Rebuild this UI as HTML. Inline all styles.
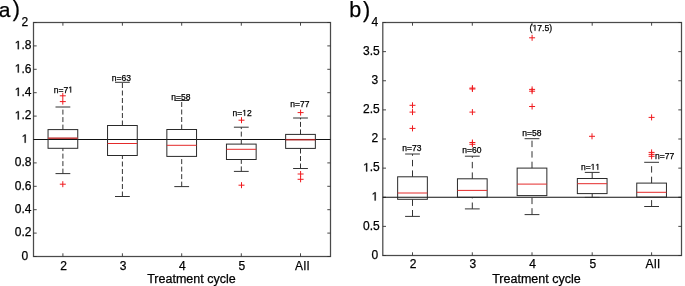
<!DOCTYPE html><html><head><meta charset="utf-8"><style>html,body{margin:0;padding:0;background:#fff;font-family:'Liberation Sans',sans-serif;}svg{display:block;will-change:transform;}</style></head><body>
<svg width="685" height="286" viewBox="0 0 685 286" font-family='"Liberation Sans", sans-serif'>
<rect width="685" height="286" fill="#fff"/>
<rect x="33.5" y="22.5" width="297.0" height="234.0" fill="none" stroke="#4a4a4a" stroke-width="1.25"/>
<line x1="33.5" y1="256.5" x2="36.7" y2="256.5" stroke="#333" stroke-width="0.9"/>
<line x1="327.3" y1="256.5" x2="330.5" y2="256.5" stroke="#333" stroke-width="0.9"/>
<line x1="33.5" y1="233.1" x2="36.7" y2="233.1" stroke="#333" stroke-width="0.9"/>
<line x1="327.3" y1="233.1" x2="330.5" y2="233.1" stroke="#333" stroke-width="0.9"/>
<line x1="33.5" y1="209.7" x2="36.7" y2="209.7" stroke="#333" stroke-width="0.9"/>
<line x1="327.3" y1="209.7" x2="330.5" y2="209.7" stroke="#333" stroke-width="0.9"/>
<line x1="33.5" y1="186.29999999999998" x2="36.7" y2="186.29999999999998" stroke="#333" stroke-width="0.9"/>
<line x1="327.3" y1="186.29999999999998" x2="330.5" y2="186.29999999999998" stroke="#333" stroke-width="0.9"/>
<line x1="33.5" y1="162.89999999999998" x2="36.7" y2="162.89999999999998" stroke="#333" stroke-width="0.9"/>
<line x1="327.3" y1="162.89999999999998" x2="330.5" y2="162.89999999999998" stroke="#333" stroke-width="0.9"/>
<line x1="33.5" y1="139.5" x2="36.7" y2="139.5" stroke="#333" stroke-width="0.9"/>
<line x1="327.3" y1="139.5" x2="330.5" y2="139.5" stroke="#333" stroke-width="0.9"/>
<line x1="33.5" y1="116.09999999999997" x2="36.7" y2="116.09999999999997" stroke="#333" stroke-width="0.9"/>
<line x1="327.3" y1="116.09999999999997" x2="330.5" y2="116.09999999999997" stroke="#333" stroke-width="0.9"/>
<line x1="33.5" y1="92.69999999999999" x2="36.7" y2="92.69999999999999" stroke="#333" stroke-width="0.9"/>
<line x1="327.3" y1="92.69999999999999" x2="330.5" y2="92.69999999999999" stroke="#333" stroke-width="0.9"/>
<line x1="33.5" y1="69.29999999999998" x2="36.7" y2="69.29999999999998" stroke="#333" stroke-width="0.9"/>
<line x1="327.3" y1="69.29999999999998" x2="330.5" y2="69.29999999999998" stroke="#333" stroke-width="0.9"/>
<line x1="33.5" y1="45.900000000000006" x2="36.7" y2="45.900000000000006" stroke="#333" stroke-width="0.9"/>
<line x1="327.3" y1="45.900000000000006" x2="330.5" y2="45.900000000000006" stroke="#333" stroke-width="0.9"/>
<line x1="33.5" y1="22.5" x2="36.7" y2="22.5" stroke="#333" stroke-width="0.9"/>
<line x1="327.3" y1="22.5" x2="330.5" y2="22.5" stroke="#333" stroke-width="0.9"/>
<line x1="62.9" y1="253.3" x2="62.9" y2="256.5" stroke="#333" stroke-width="0.9"/>
<line x1="62.9" y1="22.5" x2="62.9" y2="25.7" stroke="#333" stroke-width="0.9"/>
<line x1="122.4" y1="253.3" x2="122.4" y2="256.5" stroke="#333" stroke-width="0.9"/>
<line x1="122.4" y1="22.5" x2="122.4" y2="25.7" stroke="#333" stroke-width="0.9"/>
<line x1="181.7" y1="253.3" x2="181.7" y2="256.5" stroke="#333" stroke-width="0.9"/>
<line x1="181.7" y1="22.5" x2="181.7" y2="25.7" stroke="#333" stroke-width="0.9"/>
<line x1="241.3" y1="253.3" x2="241.3" y2="256.5" stroke="#333" stroke-width="0.9"/>
<line x1="241.3" y1="22.5" x2="241.3" y2="25.7" stroke="#333" stroke-width="0.9"/>
<line x1="300.5" y1="253.3" x2="300.5" y2="256.5" stroke="#333" stroke-width="0.9"/>
<line x1="300.5" y1="22.5" x2="300.5" y2="25.7" stroke="#333" stroke-width="0.9"/>
<line x1="33.5" y1="139.5" x2="330.5" y2="139.5" stroke="#111" stroke-width="1"/>
<line x1="62.9" y1="129.6" x2="62.9" y2="107.0" stroke="#333" stroke-width="1" stroke-dasharray="5 2.5" stroke-dashoffset="0"/>
<line x1="62.9" y1="173.6" x2="62.9" y2="148.3" stroke="#333" stroke-width="1" stroke-dasharray="5 2.5" stroke-dashoffset="0"/>
<line x1="55.5" y1="107.0" x2="70.3" y2="107.0" stroke="#333" stroke-width="1"/>
<line x1="55.5" y1="173.6" x2="70.3" y2="173.6" stroke="#333" stroke-width="1"/>
<rect x="48.05" y="129.6" width="29.70" height="18.70" fill="none" stroke="#2a2a2a" stroke-width="1"/>
<line x1="48.05" y1="138.2" x2="77.75" y2="138.2" stroke="#c04040" stroke-width="1.6"/>
<line x1="122.4" y1="125.5" x2="122.4" y2="82.3" stroke="#333" stroke-width="1" stroke-dasharray="5 2.5" stroke-dashoffset="0"/>
<line x1="122.4" y1="196.5" x2="122.4" y2="155.5" stroke="#333" stroke-width="1" stroke-dasharray="5 2.5" stroke-dashoffset="0"/>
<line x1="115.0" y1="82.3" x2="129.8" y2="82.3" stroke="#333" stroke-width="1"/>
<line x1="115.0" y1="196.5" x2="129.8" y2="196.5" stroke="#333" stroke-width="1"/>
<rect x="107.55" y="125.5" width="29.70" height="30.00" fill="none" stroke="#2a2a2a" stroke-width="1"/>
<line x1="107.55000000000001" y1="143.5" x2="137.25" y2="143.5" stroke="#e42a2a" stroke-width="1.0"/>
<line x1="181.7" y1="129.5" x2="181.7" y2="100.5" stroke="#333" stroke-width="1" stroke-dasharray="5 2.5" stroke-dashoffset="0"/>
<line x1="181.7" y1="186.6" x2="181.7" y2="156.4" stroke="#333" stroke-width="1" stroke-dasharray="5 2.5" stroke-dashoffset="0"/>
<line x1="174.29999999999998" y1="100.5" x2="189.1" y2="100.5" stroke="#333" stroke-width="1"/>
<line x1="174.29999999999998" y1="186.6" x2="189.1" y2="186.6" stroke="#333" stroke-width="1"/>
<rect x="166.85" y="129.5" width="29.70" height="26.90" fill="none" stroke="#2a2a2a" stroke-width="1"/>
<line x1="166.85" y1="145.3" x2="196.54999999999998" y2="145.3" stroke="#e42a2a" stroke-width="1.0"/>
<line x1="241.3" y1="144.1" x2="241.3" y2="127.2" stroke="#333" stroke-width="1" stroke-dasharray="5 2.5" stroke-dashoffset="0"/>
<line x1="241.3" y1="171.4" x2="241.3" y2="159.5" stroke="#333" stroke-width="1" stroke-dasharray="5 2.5" stroke-dashoffset="0"/>
<line x1="233.9" y1="127.2" x2="248.70000000000002" y2="127.2" stroke="#333" stroke-width="1"/>
<line x1="233.9" y1="171.4" x2="248.70000000000002" y2="171.4" stroke="#333" stroke-width="1"/>
<rect x="226.45" y="144.1" width="29.70" height="15.40" fill="none" stroke="#2a2a2a" stroke-width="1"/>
<line x1="226.45000000000002" y1="149.3" x2="256.15000000000003" y2="149.3" stroke="#e42a2a" stroke-width="1.0"/>
<line x1="300.5" y1="134.4" x2="300.5" y2="118.0" stroke="#333" stroke-width="1" stroke-dasharray="5 2.5" stroke-dashoffset="0"/>
<line x1="300.5" y1="168.5" x2="300.5" y2="148.4" stroke="#333" stroke-width="1" stroke-dasharray="5 2.5" stroke-dashoffset="0"/>
<line x1="293.1" y1="118.0" x2="307.9" y2="118.0" stroke="#333" stroke-width="1"/>
<line x1="293.1" y1="168.5" x2="307.9" y2="168.5" stroke="#333" stroke-width="1"/>
<rect x="285.65" y="134.4" width="29.70" height="14.00" fill="none" stroke="#2a2a2a" stroke-width="1"/>
<line x1="285.65" y1="139.7" x2="315.35" y2="139.7" stroke="#a52222" stroke-width="1.5"/>
<path d="M59.80 95.80H65.80M62.80 92.80V98.80" stroke="#f01a1e" stroke-width="1"/>
<path d="M59.80 101.60H65.80M62.80 98.60V104.60" stroke="#f01a1e" stroke-width="1"/>
<path d="M59.80 184.20H65.80M62.80 181.20V187.20" stroke="#f01a1e" stroke-width="1"/>
<path d="M238.50 120.20H244.50M241.50 117.20V123.20" stroke="#f01a1e" stroke-width="1"/>
<path d="M238.50 185.20H244.50M241.50 182.20V188.20" stroke="#f01a1e" stroke-width="1"/>
<path d="M297.60 112.60H303.60M300.60 109.60V115.60" stroke="#f01a1e" stroke-width="1"/>
<path d="M297.60 174.00H303.60M300.60 171.00V177.00" stroke="#f01a1e" stroke-width="1"/>
<path d="M297.60 179.30H303.60M300.60 176.30V182.30" stroke="#f01a1e" stroke-width="1"/>
<text x="53.83" y="92.5" font-size="8.5" fill="#000" stroke="#000" stroke-width="0.25">n=7</text>
<path d="M70.38 92.50 L70.38 87.37 L69.06 88.31 L69.06 87.60 L70.45 86.65 L71.13 86.65 L71.13 92.50Z" fill="#000" stroke="#000" stroke-width="0.25"/>
<text x="121.3" y="80.8" font-size="8.5" text-anchor="middle" fill="#000" stroke="#000" stroke-width="0.25">n=63</text>
<text x="180.8" y="99.6" font-size="8.5" text-anchor="middle" fill="#000" stroke="#000" stroke-width="0.25">n=58</text>
<text x="232.53" y="115.8" font-size="8.5" fill="#000" stroke="#000" stroke-width="0.25">n=</text>
<path d="M244.36 115.80 L244.36 110.67 L243.04 111.61 L243.04 110.90 L244.42 109.95 L245.11 109.95 L245.11 115.80Z" fill="#000" stroke="#000" stroke-width="0.25"/>
<text x="246.95" y="115.8" font-size="8.5" fill="#000" stroke="#000" stroke-width="0.25">2</text>
<text x="299.9" y="107.4" font-size="8.5" text-anchor="middle" fill="#000" stroke="#000" stroke-width="0.25">n=77</text>
<text x="28.3" y="259.8" font-size="12" text-anchor="end" fill="#000" stroke="#000" stroke-width="0.25">0</text>
<text x="31.4" y="236.4" font-size="12" text-anchor="end" fill="#000" stroke="#000" stroke-width="0.25">0.2</text>
<text x="31.4" y="213.0" font-size="12" text-anchor="end" fill="#000" stroke="#000" stroke-width="0.25">0.4</text>
<text x="31.4" y="189.6" font-size="12" text-anchor="end" fill="#000" stroke="#000" stroke-width="0.25">0.6</text>
<text x="31.4" y="166.2" font-size="12" text-anchor="end" fill="#000" stroke="#000" stroke-width="0.25">0.8</text>
<path d="M24.64 142.80 L24.64 135.55 L22.78 136.88 L22.78 135.89 L24.73 134.54 L25.70 134.54 L25.70 142.80Z" fill="#000" stroke="#000" stroke-width="0.25"/>
<path d="M17.74 119.40 L17.74 112.15 L15.87 113.48 L15.87 112.49 L17.82 111.14 L18.80 111.14 L18.80 119.40Z" fill="#000" stroke="#000" stroke-width="0.25"/>
<text x="21.39" y="119.39999999999996" font-size="12" fill="#000" stroke="#000" stroke-width="0.25">.2</text>
<path d="M17.74 96.00 L17.74 88.75 L15.87 90.08 L15.87 89.09 L17.82 87.74 L18.80 87.74 L18.80 96.00Z" fill="#000" stroke="#000" stroke-width="0.25"/>
<text x="21.39" y="95.99999999999999" font-size="12" fill="#000" stroke="#000" stroke-width="0.25">.4</text>
<path d="M17.74 72.60 L17.74 65.35 L15.87 66.68 L15.87 65.69 L17.82 64.34 L18.80 64.34 L18.80 72.60Z" fill="#000" stroke="#000" stroke-width="0.25"/>
<text x="21.39" y="72.59999999999998" font-size="12" fill="#000" stroke="#000" stroke-width="0.25">.6</text>
<path d="M17.74 49.20 L17.74 41.95 L15.87 43.28 L15.87 42.29 L17.82 40.94 L18.80 40.94 L18.80 49.20Z" fill="#000" stroke="#000" stroke-width="0.25"/>
<text x="21.39" y="49.2" font-size="12" fill="#000" stroke="#000" stroke-width="0.25">.8</text>
<text x="28.3" y="25.8" font-size="12" text-anchor="end" fill="#000" stroke="#000" stroke-width="0.25">2</text>
<text x="63.5" y="269.6" font-size="12" text-anchor="middle" fill="#000" stroke="#000" stroke-width="0.25">2</text>
<text x="123.0" y="269.6" font-size="12" text-anchor="middle" fill="#000" stroke="#000" stroke-width="0.25">3</text>
<text x="182.29999999999998" y="269.6" font-size="12" text-anchor="middle" fill="#000" stroke="#000" stroke-width="0.25">4</text>
<text x="241.9" y="269.6" font-size="12" text-anchor="middle" fill="#000" stroke="#000" stroke-width="0.25">5</text>
<text x="302.5" y="269.6" font-size="12" text-anchor="middle" fill="#000" stroke="#000" stroke-width="0.25" letter-spacing="0.6">All</text>
<text x="191.4" y="283.0" font-size="12.5" text-anchor="middle" fill="#000" stroke="#000" stroke-width="0.25">Treatment cycle</text>
<text x="-1.3" y="16.6" font-size="21" text-anchor="start" fill="#000" stroke="#000" stroke-width="0.25">a</text>
<text x="12.8" y="16.0" font-size="21.5" text-anchor="start" fill="#000" stroke="#000" stroke-width="0.25">)</text>
<rect x="382.8" y="22.5" width="298.7" height="233.0" fill="none" stroke="#4a4a4a" stroke-width="1.25"/>
<line x1="382.8" y1="255.5" x2="386.0" y2="255.5" stroke="#333" stroke-width="0.9"/>
<line x1="678.3" y1="255.5" x2="681.5" y2="255.5" stroke="#333" stroke-width="0.9"/>
<line x1="382.8" y1="226.375" x2="386.0" y2="226.375" stroke="#333" stroke-width="0.9"/>
<line x1="678.3" y1="226.375" x2="681.5" y2="226.375" stroke="#333" stroke-width="0.9"/>
<line x1="382.8" y1="197.25" x2="386.0" y2="197.25" stroke="#333" stroke-width="0.9"/>
<line x1="678.3" y1="197.25" x2="681.5" y2="197.25" stroke="#333" stroke-width="0.9"/>
<line x1="382.8" y1="168.125" x2="386.0" y2="168.125" stroke="#333" stroke-width="0.9"/>
<line x1="678.3" y1="168.125" x2="681.5" y2="168.125" stroke="#333" stroke-width="0.9"/>
<line x1="382.8" y1="139.0" x2="386.0" y2="139.0" stroke="#333" stroke-width="0.9"/>
<line x1="678.3" y1="139.0" x2="681.5" y2="139.0" stroke="#333" stroke-width="0.9"/>
<line x1="382.8" y1="109.875" x2="386.0" y2="109.875" stroke="#333" stroke-width="0.9"/>
<line x1="678.3" y1="109.875" x2="681.5" y2="109.875" stroke="#333" stroke-width="0.9"/>
<line x1="382.8" y1="80.75" x2="386.0" y2="80.75" stroke="#333" stroke-width="0.9"/>
<line x1="678.3" y1="80.75" x2="681.5" y2="80.75" stroke="#333" stroke-width="0.9"/>
<line x1="382.8" y1="51.625" x2="386.0" y2="51.625" stroke="#333" stroke-width="0.9"/>
<line x1="678.3" y1="51.625" x2="681.5" y2="51.625" stroke="#333" stroke-width="0.9"/>
<line x1="382.8" y1="22.5" x2="386.0" y2="22.5" stroke="#333" stroke-width="0.9"/>
<line x1="678.3" y1="22.5" x2="681.5" y2="22.5" stroke="#333" stroke-width="0.9"/>
<line x1="412.5" y1="252.3" x2="412.5" y2="255.5" stroke="#333" stroke-width="0.9"/>
<line x1="412.5" y1="22.5" x2="412.5" y2="25.7" stroke="#333" stroke-width="0.9"/>
<line x1="472.3" y1="252.3" x2="472.3" y2="255.5" stroke="#333" stroke-width="0.9"/>
<line x1="472.3" y1="22.5" x2="472.3" y2="25.7" stroke="#333" stroke-width="0.9"/>
<line x1="532.0" y1="252.3" x2="532.0" y2="255.5" stroke="#333" stroke-width="0.9"/>
<line x1="532.0" y1="22.5" x2="532.0" y2="25.7" stroke="#333" stroke-width="0.9"/>
<line x1="592.2" y1="252.3" x2="592.2" y2="255.5" stroke="#333" stroke-width="0.9"/>
<line x1="592.2" y1="22.5" x2="592.2" y2="25.7" stroke="#333" stroke-width="0.9"/>
<line x1="651.6" y1="252.3" x2="651.6" y2="255.5" stroke="#333" stroke-width="0.9"/>
<line x1="651.6" y1="22.5" x2="651.6" y2="25.7" stroke="#333" stroke-width="0.9"/>
<line x1="382.8" y1="197.25" x2="681.5" y2="197.25" stroke="#111" stroke-width="1"/>
<line x1="412.5" y1="176.8" x2="412.5" y2="154.0" stroke="#333" stroke-width="1" stroke-dasharray="6.4 4.1" stroke-dashoffset="0"/>
<line x1="412.5" y1="216.4" x2="412.5" y2="199.3" stroke="#333" stroke-width="1" stroke-dasharray="6.4 4.1" stroke-dashoffset="0"/>
<line x1="405.1" y1="154.0" x2="419.9" y2="154.0" stroke="#333" stroke-width="1"/>
<line x1="405.1" y1="216.4" x2="419.9" y2="216.4" stroke="#333" stroke-width="1"/>
<rect x="397.65" y="176.8" width="29.70" height="22.50" fill="none" stroke="#2a2a2a" stroke-width="1"/>
<line x1="397.65" y1="193.0" x2="427.35" y2="193.0" stroke="#e42a2a" stroke-width="1.0"/>
<line x1="472.3" y1="178.8" x2="472.3" y2="156.2" stroke="#333" stroke-width="1" stroke-dasharray="6.4 4.1" stroke-dashoffset="0"/>
<line x1="472.3" y1="208.9" x2="472.3" y2="197.3" stroke="#333" stroke-width="1" stroke-dasharray="6.4 4.1" stroke-dashoffset="0"/>
<line x1="464.90000000000003" y1="156.2" x2="479.7" y2="156.2" stroke="#333" stroke-width="1"/>
<line x1="464.90000000000003" y1="208.9" x2="479.7" y2="208.9" stroke="#333" stroke-width="1"/>
<rect x="457.45" y="178.8" width="29.70" height="18.50" fill="none" stroke="#2a2a2a" stroke-width="1"/>
<line x1="457.45" y1="190.4" x2="487.15000000000003" y2="190.4" stroke="#e42a2a" stroke-width="1.0"/>
<line x1="532.0" y1="168.1" x2="532.0" y2="138.7" stroke="#333" stroke-width="1" stroke-dasharray="6.4 4.1" stroke-dashoffset="0"/>
<line x1="532.0" y1="214.6" x2="532.0" y2="195.6" stroke="#333" stroke-width="1" stroke-dasharray="6.4 4.1" stroke-dashoffset="0"/>
<line x1="524.6" y1="138.7" x2="539.4" y2="138.7" stroke="#333" stroke-width="1"/>
<line x1="524.6" y1="214.6" x2="539.4" y2="214.6" stroke="#333" stroke-width="1"/>
<rect x="517.15" y="168.1" width="29.70" height="27.50" fill="none" stroke="#2a2a2a" stroke-width="1"/>
<line x1="517.15" y1="184.1" x2="546.85" y2="184.1" stroke="#e42a2a" stroke-width="1.0"/>
<line x1="592.2" y1="178.5" x2="592.2" y2="172.4" stroke="#333" stroke-width="1" stroke-dasharray="6.4 4.1" stroke-dashoffset="0"/>
<line x1="592.2" y1="197.4" x2="592.2" y2="193.6" stroke="#333" stroke-width="1" stroke-dasharray="6.4 4.1" stroke-dashoffset="0"/>
<line x1="584.8000000000001" y1="172.4" x2="599.6" y2="172.4" stroke="#333" stroke-width="1"/>
<line x1="584.8000000000001" y1="197.4" x2="599.6" y2="197.4" stroke="#333" stroke-width="1"/>
<rect x="577.35" y="178.5" width="29.70" height="15.10" fill="none" stroke="#2a2a2a" stroke-width="1"/>
<line x1="577.35" y1="183.7" x2="607.0500000000001" y2="183.7" stroke="#e42a2a" stroke-width="1.0"/>
<line x1="651.6" y1="183.1" x2="651.6" y2="162.3" stroke="#333" stroke-width="1" stroke-dasharray="6.4 4.1" stroke-dashoffset="0"/>
<line x1="651.6" y1="206.5" x2="651.6" y2="197.1" stroke="#333" stroke-width="1" stroke-dasharray="6.4 4.1" stroke-dashoffset="0"/>
<line x1="644.2" y1="162.3" x2="659.0" y2="162.3" stroke="#333" stroke-width="1"/>
<line x1="644.2" y1="206.5" x2="659.0" y2="206.5" stroke="#333" stroke-width="1"/>
<rect x="636.75" y="183.1" width="29.70" height="14.00" fill="none" stroke="#2a2a2a" stroke-width="1"/>
<line x1="636.75" y1="192.3" x2="666.45" y2="192.3" stroke="#e42a2a" stroke-width="1.0"/>
<path d="M409.50 105.30H415.50M412.50 102.30V108.30" stroke="#f01a1e" stroke-width="1"/>
<path d="M409.50 112.10H415.50M412.50 109.10V115.10" stroke="#f01a1e" stroke-width="1"/>
<path d="M409.50 128.40H415.50M412.50 125.40V131.40" stroke="#f01a1e" stroke-width="1"/>
<path d="M469.40 88.10H475.40M472.40 85.10V91.10" stroke="#f01a1e" stroke-width="1"/>
<path d="M469.40 89.00H475.40M472.40 86.00V92.00" stroke="#f01a1e" stroke-width="1"/>
<path d="M469.40 112.10H475.40M472.40 109.10V115.10" stroke="#f01a1e" stroke-width="1"/>
<path d="M469.40 142.50H475.40M472.40 139.50V145.50" stroke="#f01a1e" stroke-width="1"/>
<path d="M469.40 144.30H475.40M472.40 141.30V147.30" stroke="#f01a1e" stroke-width="1"/>
<path d="M529.10 37.80H535.10M532.10 34.80V40.80" stroke="#f01a1e" stroke-width="1"/>
<path d="M529.10 89.40H535.10M532.10 86.40V92.40" stroke="#f01a1e" stroke-width="1"/>
<path d="M529.10 91.20H535.10M532.10 88.20V94.20" stroke="#f01a1e" stroke-width="1"/>
<path d="M529.10 106.50H535.10M532.10 103.50V109.50" stroke="#f01a1e" stroke-width="1"/>
<path d="M589.00 136.30H595.00M592.00 133.30V139.30" stroke="#f01a1e" stroke-width="1"/>
<path d="M648.60 117.40H654.60M651.60 114.40V120.40" stroke="#f01a1e" stroke-width="1"/>
<path d="M648.60 152.40H654.60M651.60 149.40V155.40" stroke="#f01a1e" stroke-width="1"/>
<path d="M648.60 154.40H654.60M651.60 151.40V157.40" stroke="#f01a1e" stroke-width="1"/>
<path d="M648.60 156.30H654.60M651.60 153.30V159.30" stroke="#f01a1e" stroke-width="1"/>
<text x="411.9" y="151.3" font-size="8.5" text-anchor="middle" fill="#000" stroke="#000" stroke-width="0.25">n=73</text>
<text x="471.9" y="153.2" font-size="8.5" text-anchor="middle" fill="#000" stroke="#000" stroke-width="0.25">n=60</text>
<text x="531.9" y="136.0" font-size="8.5" text-anchor="middle" fill="#000" stroke="#000" stroke-width="0.25">n=58</text>
<text x="580.93" y="169.8" font-size="8.5" fill="#000" stroke="#000" stroke-width="0.25">n=</text>
<path d="M592.76 169.80 L592.76 164.67 L591.44 165.61 L591.44 164.90 L592.82 163.95 L593.51 163.95 L593.51 169.80Z" fill="#000" stroke="#000" stroke-width="0.25"/>
<path d="M597.48 169.80 L597.48 164.67 L596.16 165.61 L596.16 164.90 L597.55 163.95 L598.23 163.95 L598.23 169.80Z" fill="#000" stroke="#000" stroke-width="0.25"/>
<text x="655.0" y="158.9" font-size="8.5" text-anchor="start" fill="#000" stroke="#000" stroke-width="0.25">n=77</text>
<text x="529.60" y="30.8" font-size="8.6" fill="#000" stroke="#000" stroke-width="0.25">(</text>
<path d="M534.63 30.80 L534.63 25.61 L533.29 26.56 L533.29 25.84 L534.69 24.88 L535.39 24.88 L535.39 30.80Z" fill="#000" stroke="#000" stroke-width="0.25"/>
<text x="537.25" y="30.8" font-size="8.6" fill="#000" stroke="#000" stroke-width="0.25">7.5)</text>
<text x="378.3" y="258.8" font-size="12" text-anchor="end" fill="#000" stroke="#000" stroke-width="0.25">0</text>
<text x="379.8" y="229.675" font-size="12" text-anchor="end" fill="#000" stroke="#000" stroke-width="0.25">0.5</text>
<path d="M374.64 200.55 L374.64 193.30 L372.78 194.63 L372.78 193.64 L374.73 192.29 L375.70 192.29 L375.70 200.55Z" fill="#000" stroke="#000" stroke-width="0.25"/>
<path d="M366.14 171.43 L366.14 164.18 L364.27 165.51 L364.27 164.51 L366.22 163.17 L367.20 163.17 L367.20 171.43Z" fill="#000" stroke="#000" stroke-width="0.25"/>
<text x="369.79" y="171.425" font-size="12" fill="#000" stroke="#000" stroke-width="0.25">.5</text>
<text x="378.3" y="142.3" font-size="12" text-anchor="end" fill="#000" stroke="#000" stroke-width="0.25">2</text>
<text x="379.8" y="113.175" font-size="12" text-anchor="end" fill="#000" stroke="#000" stroke-width="0.25">2.5</text>
<text x="378.3" y="84.05" font-size="12" text-anchor="end" fill="#000" stroke="#000" stroke-width="0.25">3</text>
<text x="379.8" y="54.925" font-size="12" text-anchor="end" fill="#000" stroke="#000" stroke-width="0.25">3.5</text>
<text x="378.3" y="25.8" font-size="12" text-anchor="end" fill="#000" stroke="#000" stroke-width="0.25">4</text>
<text x="413.1" y="267.7" font-size="12" text-anchor="middle" fill="#000" stroke="#000" stroke-width="0.25">2</text>
<text x="472.90000000000003" y="267.7" font-size="12" text-anchor="middle" fill="#000" stroke="#000" stroke-width="0.25">3</text>
<text x="532.6" y="267.7" font-size="12" text-anchor="middle" fill="#000" stroke="#000" stroke-width="0.25">4</text>
<text x="592.8000000000001" y="267.7" font-size="12" text-anchor="middle" fill="#000" stroke="#000" stroke-width="0.25">5</text>
<text x="653.0" y="267.7" font-size="12" text-anchor="middle" fill="#000" stroke="#000" stroke-width="0.25" letter-spacing="0.6">All</text>
<text x="536.4" y="283.0" font-size="12.5" text-anchor="middle" fill="#000" stroke="#000" stroke-width="0.25">Treatment cycle</text>
<text x="349.3" y="16.6" font-size="21.5" text-anchor="start" fill="#000" stroke="#000" stroke-width="0.25">b</text>
<text x="362.9" y="16.5" font-size="21.5" text-anchor="start" fill="#000" stroke="#000" stroke-width="0.25">)</text>
</svg></body></html>
